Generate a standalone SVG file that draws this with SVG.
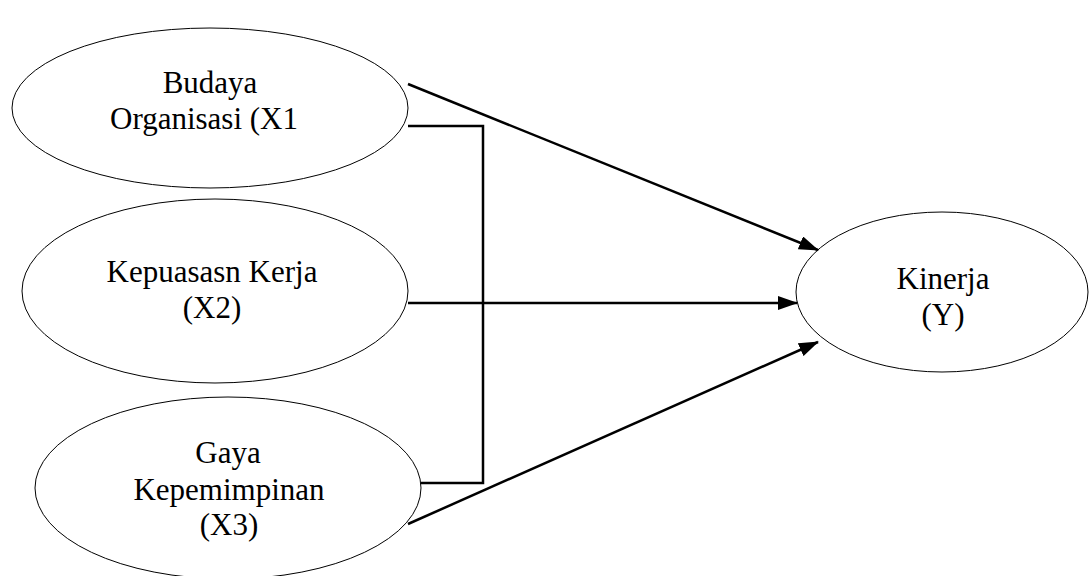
<svg xmlns="http://www.w3.org/2000/svg" width="1089" height="576" viewBox="0 0 1089 576">
<style>
.node ellipse{fill:#fff;stroke:#000;stroke-width:1}
.node text{font-family:"Liberation Serif","Times New Roman",serif;font-size:31px;fill:#000;text-anchor:middle}
.conn{fill:none;stroke:#000;stroke-width:2.5}
</style>
<defs>
<marker id="arr" markerUnits="userSpaceOnUse" markerWidth="20" markerHeight="14" refX="19" refY="7" orient="auto">
<path d="M0,0 L20,7 L0,14 Z" fill="#000"/>
</marker>
</defs>
<rect width="1089" height="576" fill="#fff"/>
<g id="n-x1" class="node">
<ellipse cx="210" cy="108" rx="198" ry="80"/>
<text x="210" y="93">Budaya</text>
<text x="204" y="129">Organisasi (X1</text>
</g>
<g id="n-x2" class="node">
<ellipse cx="215" cy="291" rx="193" ry="92"/>
<text x="212" y="282">Kepuasasn Kerja</text>
<text x="212" y="318">(X2)</text>
</g>
<g id="n-x3" class="node">
<ellipse cx="228" cy="488" rx="193" ry="91"/>
<text x="228" y="463">Gaya</text>
<text x="229" y="500">Kepemimpinan</text>
<text x="229" y="535">(X3)</text>
</g>
<g id="n-y" class="node">
<ellipse cx="942" cy="292" rx="146" ry="80"/>
<text x="943" y="289">Kinerja</text>
<text x="943" y="325">(Y)</text>
</g>
<g id="connectors">
<polyline class="conn" points="408,126 483,126 483,483 421,483"/>
<line class="conn" x1="408" y1="84" x2="818" y2="250" marker-end="url(#arr)"/>
<line class="conn" x1="408" y1="303" x2="797" y2="303" marker-end="url(#arr)"/>
<line class="conn" x1="408" y1="524" x2="818" y2="342" marker-end="url(#arr)"/>
</g>
</svg>
